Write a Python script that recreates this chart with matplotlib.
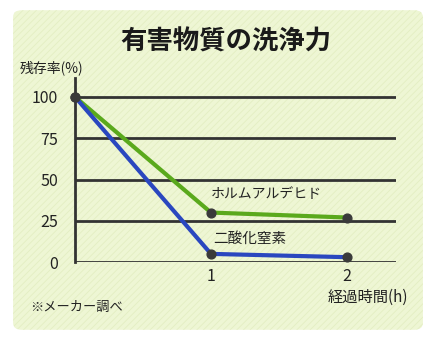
import matplotlib.pyplot as plt
from matplotlib.patches import FancyBboxPatch

plt.rcParams['font.family'] = ['Noto Sans CJK JP', 'DejaVu Sans']
plt.rcParams['hatch.linewidth'] = 0.6

hours = [0, 1, 2]
formaldehyde = [100, 30, 27]
nitrogen_dioxide = [100, 5, 3]
y_ticks = [0, 25, 50, 75, 100]
x_ticks = [1, 2]

fig = plt.figure(figsize=(4.36, 3.4), dpi=100)
fig.patch.set_facecolor('white')

# textured light green panel behind everything
panel = FancyBboxPatch((0.03, 0.03), 0.94, 0.94, boxstyle='round,pad=0,rounding_size=0.02',
                       transform=fig.transFigure, facecolor='#eef6d4', edgecolor='#e3eec2',
                       hatch='/////', linewidth=0, zorder=-5)
fig.patches.append(panel)

ax = fig.add_axes([0.172, 0.229, 0.736, 0.542], zorder=2)
ax.set_facecolor('none')
ax.set_xlim(0, 2.36)
ax.set_ylim(0, 111.5)

for v in y_ticks:
    ax.axhline(v, color='#333333', lw=2, zorder=1)

ax.plot(hours, formaldehyde, color='#5aa91c', lw=3, zorder=2)
ax.plot(hours, nitrogen_dioxide, color='#2a47bf', lw=3, zorder=2)
ax.scatter(hours, formaldehyde, s=40, color='#3a3a3a', zorder=3, clip_on=False)
ax.scatter(hours, nitrogen_dioxide, s=40, color='#3a3a3a', zorder=3, clip_on=False)

for s in ['top', 'right', 'bottom']:
    ax.spines[s].set_visible(False)
ax.spines['left'].set_color('#333333')
ax.spines['left'].set_linewidth(2)

ax.set_yticks(y_ticks)
ax.set_yticklabels([str(v) for v in y_ticks], fontsize=11.5)
ax.set_xticks(x_ticks)
ax.set_xticklabels([str(v) for v in x_ticks], fontsize=11.5)
ax.tick_params(axis='y', length=0, pad=12, colors='#222222')
ax.tick_params(axis='x', length=0, pad=4, colors='#222222')

ax.text(1.0, 37, 'ホルムアルデヒド', fontsize=10, color='#222222', va='bottom')
ax.text(1.02, 10, '二酸化窒素', fontsize=10.5, color='#222222', va='bottom')

fig.text(0.518, 0.875, '有害物質の洗浄力', ha='center', va='center', fontsize=19,
         fontweight='bold', color='#1a1a1a')
fig.text(0.046, 0.80, '残存率(%)', ha='left', va='center', fontsize=10, color='#222222')
fig.text(0.937, 0.125, '経過時間(h)', ha='right', va='center', fontsize=11, color='#222222')
fig.text(0.068, 0.095, '※メーカー調べ', ha='left', va='center', fontsize=9.5, color='#222222')

fig.savefig('out.png', dpi=100)
